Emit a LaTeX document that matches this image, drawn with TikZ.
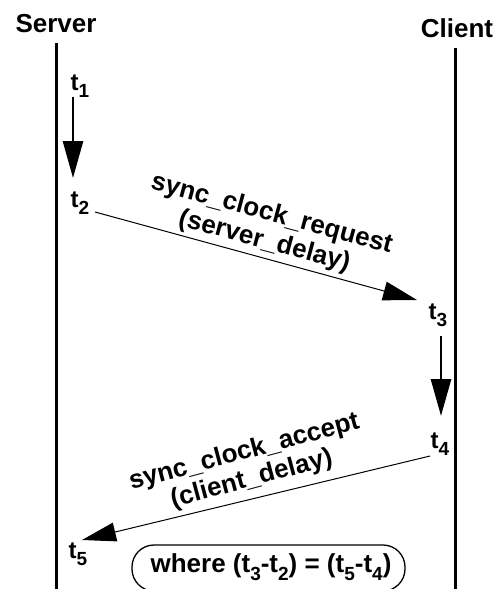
\documentclass[tikz,border=0pt]{standalone}
\usepackage{fontspec}
\setmainfont{Liberation Sans}
\usetikzlibrary{arrows.meta}
\newcommand\tsub[1]{\raisebox{-0.3em}{\fontsize{19}{19}\selectfont #1}}
\begin{document}
\begin{tikzpicture}[x=1pt,y=-1pt,
  every node/.style={inner sep=0pt,font=\fontsize{26}{28}\selectfont\bfseries},
  lifeline/.style={line width=3pt},
  steparrow/.style={line width=2.8pt,-{Triangle[length=37pt,width=20pt]}},
  msgarrow/.style={line width=1pt,-{Triangle[length=34pt,width=19pt]}},
  tlabel/.style={font=\fontsize{24}{24}\selectfont\bfseries}]
\useasboundingbox (0,0) rectangle (499,589);
% headings
\node (server) at (56,24) {Server};
\node (client) at (457,28) {Client};
% lifelines
\coordinate (stop) at (56,43);
\coordinate (sbot) at (56,592);
\coordinate (ctop) at (455,48);
\coordinate (cbot) at (455,592);
\draw[lifeline] (stop) -- (sbot);
\draw[lifeline] (ctop) -- (cbot);
% time labels
\node[tlabel] (t1) at (80,86) {t\tsub{1}};
\node[tlabel] (t2) at (80,203) {t\tsub{2}};
\node[tlabel] (t3) at (438,315) {t\tsub{3}};
\node[tlabel] (t4) at (440,444) {t\tsub{4}};
\node[tlabel] (t5) at (78,554) {t\tsub{5}};
% connector end points
\coordinate (a1s) at (73,97);
\coordinate (a1e) at (73,178);
\coordinate (m1s) at (95,212);
\coordinate (m1e) at (417,300);
\coordinate (a2s) at (441,336);
\coordinate (a2e) at (441,416);
\coordinate (m2s) at (430,456);
\coordinate (m2e) at (82,540);
\draw[steparrow] (a1s) -- (a1e);
\draw[msgarrow] (m1s) -- (m1e);
\draw[steparrow] (a2s) -- (a2e);
\draw[msgarrow] (m2s) -- (m2e);
% message labels
\node[align=center,rotate=-15] (req) at (268,228) {sync\_clock\_request\\(server\_delay)};
\node[align=center,rotate=15] (acc) at (248,466) {sync\_clock\_accept\\(client\_delay)};
% note box
\draw[line width=1.3pt,rounded corners=22pt] (132,545) rectangle (405,591);
\node (note) at (271,567) {where (t\tsub{3}-t\tsub{2}) = (t\tsub{5}-t\tsub{4})};
\end{tikzpicture}
\end{document}
